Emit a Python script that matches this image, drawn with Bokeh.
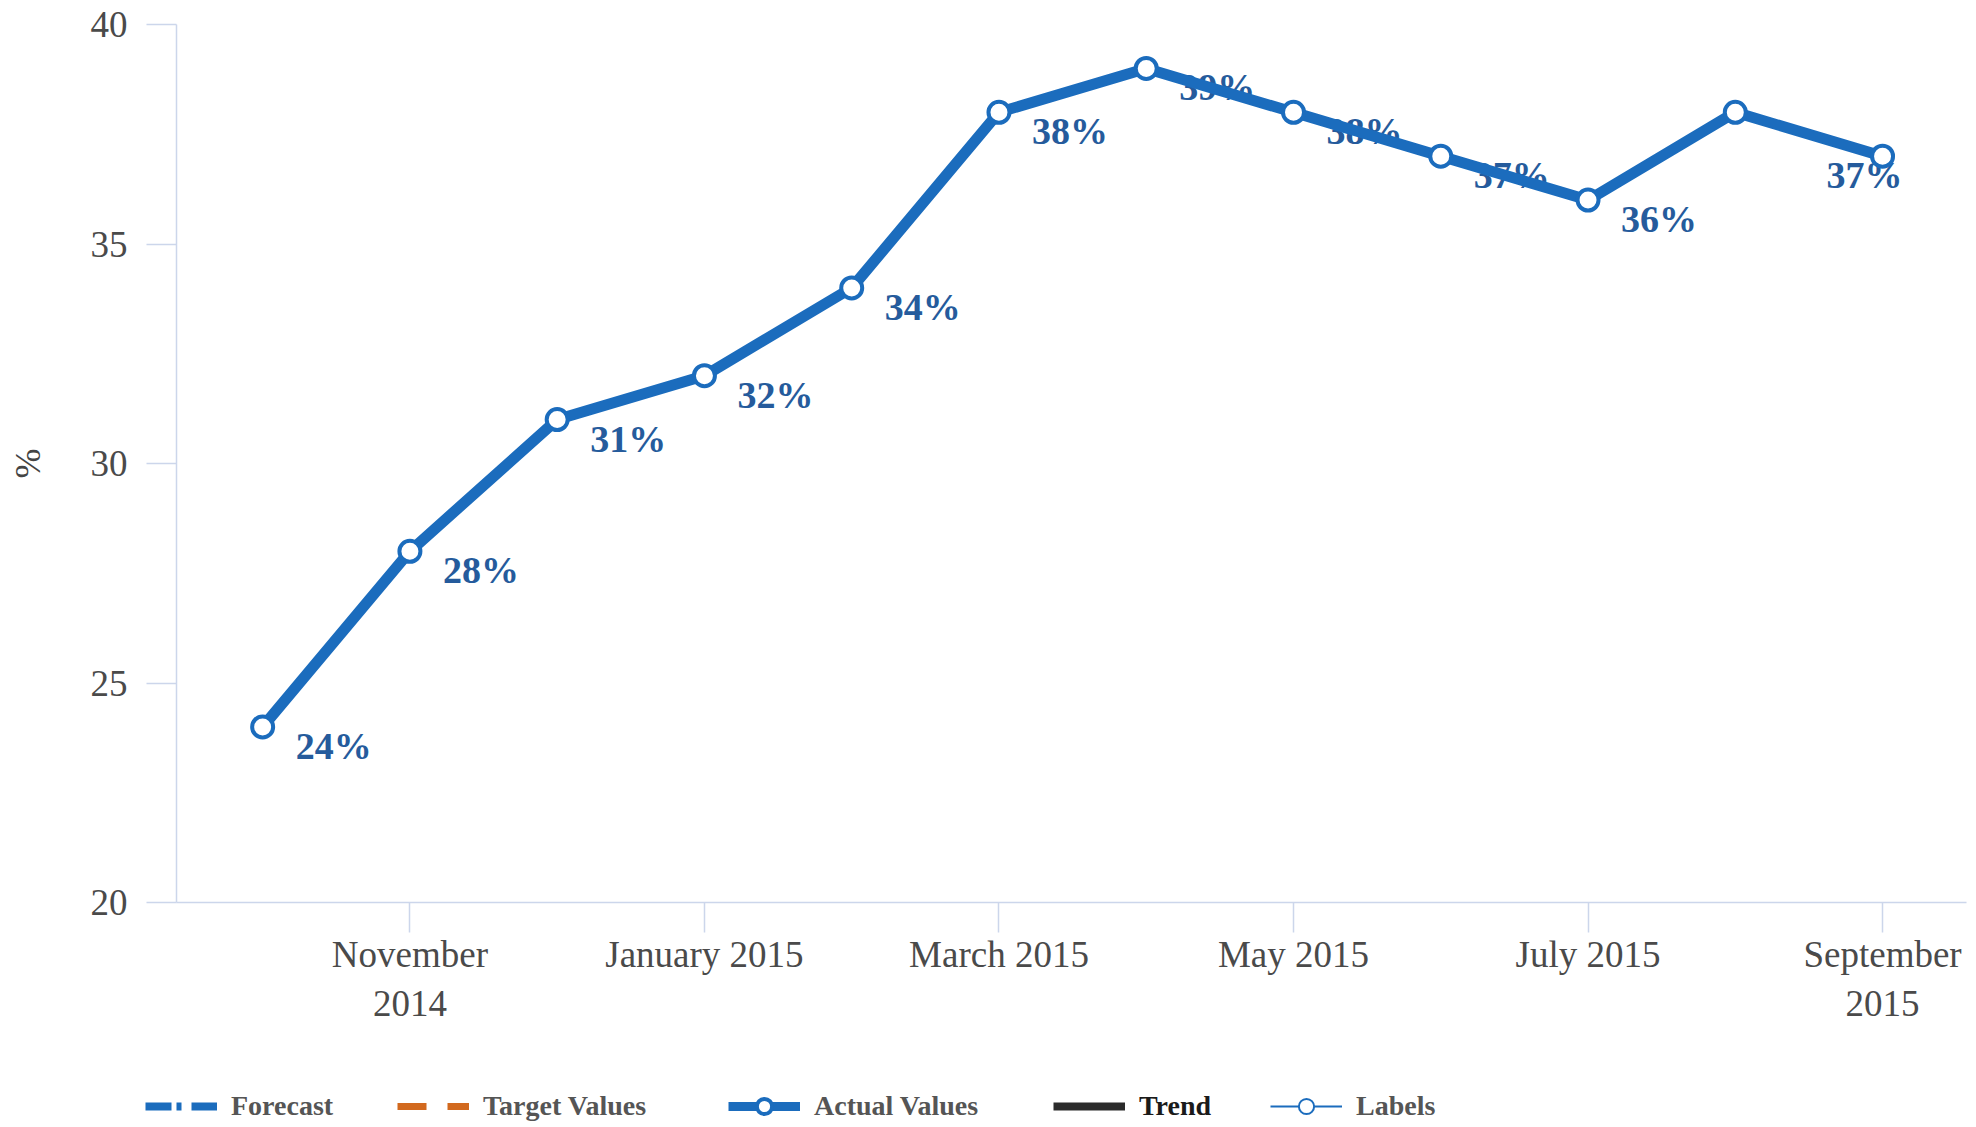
from bokeh.plotting import figure
from bokeh.layouts import column, row
from bokeh.models import Range1d, FixedTicker, Legend, LegendItem, ColumnDataSource
from bokeh.core.properties import value
from bokeh.embed import file_html
from bokeh.resources import INLINE

# ---- data ----
months = ["Oct 2014", "Nov 2014", "Dec 2014", "Jan 2015", "Feb 2015", "Mar 2015",
          "Apr 2015", "May 2015", "Jun 2015", "Jul 2015", "Aug 2015", "Sep 2015"]
actual_values = [24, 28, 31, 32, 34, 38, 39, 38, 37, 36, 38, 37]
show_label = [True, True, True, True, True, True, True, True, True, True, False, True]
tick_positions = [1, 3, 5, 7, 9, 11]
tick_labels = ["November\n2014", "January 2015", "March 2015", "May 2015", "July 2015", "September\n2015"]
forecast_values = []   # series shown only in the legend
target_values = []
trend_values = []
legend_names = ["Forecast", "Target Values", "Actual Values", "Trend", "Labels"]

SERIF = "Liberation Serif"
BLUE = "#1b6cbd"
LABEL_BLUE = "#255b9c"
NAN = float("nan")

x_idx = list(range(len(months)))
label_text = [f"{v}%" if s else "" for v, s in zip(actual_values, show_label)]
label_dx = [33] * len(months)
label_dx[-1] = -56

p = figure(width=1968, height=1064, output_backend="svg", toolbar_location=None,
           x_range=Range1d(-0.585, 11.57), y_range=Range1d(20, 40),
           min_border_left=176, min_border_right=2, min_border_top=24, min_border_bottom=162)
p.outline_line_color = None
p.xgrid.grid_line_color = None
p.ygrid.grid_line_color = None
p.background_fill_color = "white"
p.border_fill_color = "white"

# axes
AX = "#ccd6eb"
p.xaxis.ticker = FixedTicker(ticks=tick_positions)
p.xaxis.major_label_overrides = {t: l for t, l in zip(tick_positions, tick_labels)}
p.yaxis.ticker = FixedTicker(ticks=[20, 25, 30, 35, 40])
for ax in (p.xaxis, p.yaxis):
    ax.axis_line_color = AX
    ax.axis_line_width = 1.5
    ax.major_tick_line_color = AX
    ax.major_tick_line_width = 1.5
    ax.major_tick_out = 30
    ax.major_tick_in = 0
    ax.minor_tick_line_color = None
    ax.major_label_text_font = SERIF
    ax.major_label_text_font_size = "37px"
    ax.major_label_text_color = "#4a4a4a"
p.xaxis.major_label_standoff = 1
p.yaxis.major_label_standoff = 19
p.yaxis.axis_label = "%"
p.yaxis.axis_label_text_font = SERIF
p.yaxis.axis_label_text_font_style = "normal"
p.yaxis.axis_label_text_font_size = "36px"
p.yaxis.axis_label_text_color = "#444444"
p.yaxis.axis_label_standoff = 40

# data labels (drawn beneath the line)
src = ColumnDataSource(dict(x=x_idx, y=actual_values, t=label_text, dx=label_dx))
p.text(x="x", y="y", text="t", source=src, x_offset="dx", y_offset=19,
       text_font=value(SERIF), text_font_style="bold", text_font_size="38px",
       text_color=LABEL_BLUE, text_align="left", text_baseline="middle")

# actual values
p.line(x_idx, actual_values, line_color=BLUE, line_width=11, line_join="round")
p.scatter(x_idx, actual_values, size=21, fill_color="white", line_color=BLUE, line_width=4)

# ---- legend strip (separate figure below the chart) ----
q = figure(width=1968, height=61, output_backend="svg", toolbar_location=None,
           x_range=Range1d(0, 1), y_range=Range1d(0, 1),
           min_border_left=0, min_border_right=0, min_border_top=0, min_border_bottom=0)
q.xaxis.visible = False
q.yaxis.visible = False
q.grid.visible = False
q.outline_line_color = None

def ph(vals):
    # legend-only renderer: empty series get one NaN placeholder so the glyph is drawn
    return vals if len(vals) else [NAN]

r_fc = q.line(ph(forecast_values), ph(forecast_values), line_color=BLUE, line_width=8,
              line_dash="26 5 5 10")
r_tg = q.line(ph(target_values), ph(target_values), line_color="#d2691e", line_width=7,
              line_dash="29 21")
r_act_l = q.line([NAN], [NAN], line_color=BLUE, line_width=9)
r_act_p = q.scatter([NAN], [NAN], size=20, fill_color="white", line_color=BLUE, line_width=4)
r_tr = q.line(ph(trend_values), ph(trend_values), line_color="#2b2b2b", line_width=8)
r_lb_line = q.line([NAN], [NAN], line_color=BLUE, line_width=2)
r_lb_pt = q.scatter([NAN], [NAN], size=12, fill_color="white", line_color=BLUE, line_width=2)

items = [
    (legend_names[0], [r_fc], 145, "#555555"),
    (legend_names[1], [r_tg], 397, "#555555"),
    (legend_names[2], [r_act_l, r_act_p], 728, "#555555"),
    (legend_names[3], [r_tr], 1053, "#1a1a1a"),
    (legend_names[4], [r_lb_line, r_lb_pt], 1270, "#555555"),
]
for name, rends, vx, col in items:
    lg = Legend(items=[LegendItem(label=name, renderers=rends)], location=(vx, 0),
                orientation="horizontal", glyph_width=72, glyph_height=38, label_standoff=14,
                padding=0, margin=0, border_line_color=None, background_fill_alpha=0,
                label_text_font=SERIF, label_text_font_style="bold",
                label_text_font_size="28px", label_text_color=col)
    q.add_layout(lg)

open("out.html", "w").write(file_html(column(p, row(q), spacing=0), INLINE))
